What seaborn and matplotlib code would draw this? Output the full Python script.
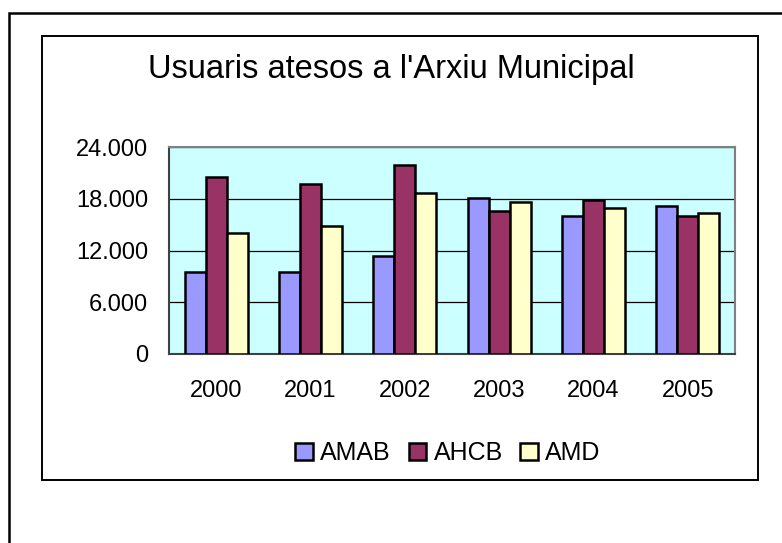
import pandas as pd
import seaborn as sns
import matplotlib.pyplot as plt
from matplotlib.patches import Rectangle, Patch

years = ["2000", "2001", "2002", "2003", "2004", "2005"]
series = ["AMAB", "AHCB", "AMD"]
amab = [9500, 9550, 11350, 18050, 15950, 17150]
ahcb = [20550, 19700, 21950, 16550, 17850, 16050]
amd = [14000, 14850, 18700, 17650, 16900, 16400]
colors = {"AMAB": "#9999FF", "AHCB": "#993366", "AMD": "#FFFFCC"}
yticks = [0, 6000, 12000, 18000, 24000]
ytick_labels = ["0", "6.000", "12.000", "18.000", "24.000"]

df = pd.DataFrame({
    "any": years * 3,
    "serie": ["AMAB"] * 6 + ["AHCB"] * 6 + ["AMD"] * 6,
    "usuaris": amab + ahcb + amd,
})

sns.set_style("white")
plt.rcParams["font.family"] = ["Liberation Sans", "DejaVu Sans"]
plt.rcParams["text.color"] = "black"
plt.rcParams["xtick.color"] = "black"
plt.rcParams["ytick.color"] = "black"

W, H = 782, 543
fig = plt.figure(figsize=(W / 100, H / 100), dpi=100)

# outer frame and chart frame (pixel coords -> figure coords)
def px_rect(x0, y0, x1, y1, **kw):
    fig.patches.append(Rectangle((x0 / W, 1 - y1 / H), (x1 - x0) / W, (y1 - y0) / H,
                                 transform=fig.transFigure, fill=False, **kw))

px_rect(9, 13, 800, 560, lw=1.8, edgecolor="black")
px_rect(42, 36, 758, 480, lw=1.4, edgecolor="black")

ax = fig.add_axes([169 / W, 1 - 354 / H, 566 / W, 207 / H])
ax.set_facecolor("#CCFFFF")

sns.barplot(data=df, x="any", y="usuaris", hue="serie", hue_order=series,
            palette=colors, width=0.67, gap=0, edgecolor="black", linewidth=1.8,
            saturation=1, legend=False, ax=ax, zorder=3)

ax.set_ylim(0, 24000)
ax.set_xlim(-0.5, 5.5)
ax.set_yticks(yticks)
ax.set_yticklabels(ytick_labels)
ax.yaxis.grid(True, color="black", lw=0.9, zorder=0)
ax.set_axisbelow(True)
ax.set_xlabel("")
ax.set_ylabel("")

ax.set_xticks(range(6))
ax.set_xticklabels(years)
ax.set_xticks([i - 0.5 for i in range(7)], minor=True)
ax.tick_params(axis="x", which="major", length=0, pad=19, labelsize=17)
ax.tick_params(axis="x", which="minor", length=6, width=1.2, color="#404040", direction="out")
ax.tick_params(axis="y", length=6, width=1.2, color="#404040", labelcolor="black",
               direction="out", pad=9, labelsize=17)

for side in ["top", "right"]:
    ax.spines[side].set_color("#808080")
    ax.spines[side].set_linewidth(1.5)
for side in ["left", "bottom"]:
    ax.spines[side].set_color("#404040")
    ax.spines[side].set_linewidth(1.5)

fig.text(391 / W, 1 - 78 / H, "Usuaris atesos a l'Arxiu Municipal",
         ha="center", va="baseline", fontsize=23.5, color="black")

handles = [Patch(facecolor=colors[s], edgecolor="black", lw=1.8) for s in series]
fig.legend(handles, series, loc="center", bbox_to_anchor=(448 / W, 1 - 453 / H),
           ncol=3, frameon=False, fontsize=18, handlelength=0.7, handleheight=0.7,
           handletextpad=0.3, columnspacing=0.7, borderpad=0)

fig.savefig("out.png", dpi=100)
